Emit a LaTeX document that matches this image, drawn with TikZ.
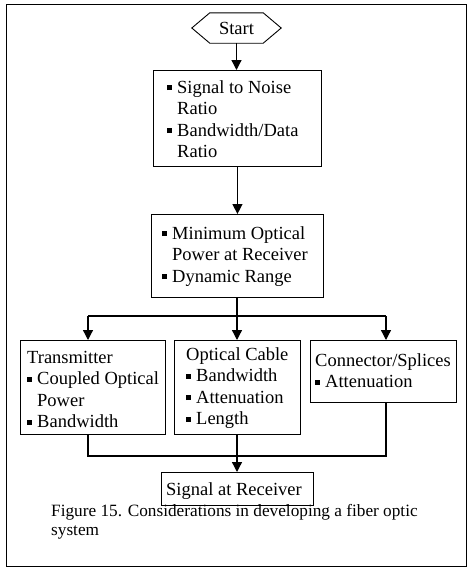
\documentclass[tikz,border=0pt]{standalone}
\usepackage{fontspec}
\setmainfont{Liberation Serif}
\usetikzlibrary{arrows.meta}
\newcommand{\bul}{\makebox[10pt][l]{\rule[3pt]{5pt}{5pt}}}
\newcommand{\ind}{\hspace*{10pt}}
\begin{document}
\begin{tikzpicture}[x=1pt,y=-1pt,
  box/.style={draw, line width=0.9pt, anchor=north west, inner sep=0pt},
  txt/.style={anchor=north west, inner sep=0pt, align=left, font=\fontsize{18.5}{21.5}\selectfont},
  arr/.style={line width=1.3pt, -{Triangle[length=10pt,width=10pt]}},
  ln/.style={line width=1.3pt}]
\useasboundingbox (0,0) rectangle (467,568);
\draw[line width=0.9pt] (6,4) rectangle (466,566);
% start
\node[minimum width=89pt, minimum height=30pt, inner sep=0pt, font=\fontsize{18.5}{21.5}\selectfont] (start) at (236.5,28) {Start};
\draw[line width=0.9pt] (start.west) -- ([xshift=18pt]start.north west) -- ([xshift=-18pt]start.north east) -- (start.east) -- ([xshift=-18pt]start.south east) -- ([xshift=18pt]start.south west) -- cycle;
% boxes
\node[box, minimum width=168pt, minimum height=96pt] (b1) at (153,70) {};
\node[txt] (t1) at (167,93-15.05) {\strut\bul Signal to Noise\\\ind Ratio\\\bul Bandwidth/Data\\\ind Ratio};
\node[box, minimum width=172pt, minimum height=83pt] (b2) at (151,214) {};
\node[txt] (t2) at (162,239-15.05) {\strut\bul Minimum Optical\\\ind Power at Receiver\\\bul Dynamic Range};
\node[box, minimum width=145pt, minimum height=94pt] (tx) at (20,340) {};
\node[txt] (t3) at (27,363-15.05) {\strut Transmitter\\\bul Coupled Optical\\\ind Power\\\bul Bandwidth};
\node[box, minimum width=126pt, minimum height=94pt] (cable) at (174,340) {};
\node[txt] (t4) at (186,360-15.05) {\strut Optical Cable\\\bul Bandwidth\\\bul Attenuation\\\bul Length};
\node[box, minimum width=146pt, minimum height=62pt] (conn) at (310,340) {};
\node[txt] (t5) at (315,366-15.05) {\strut Connector/Splices\\\bul Attenuation};
\node[box, minimum width=152pt, minimum height=33pt] (rx) at (161,472) {};
\node[anchor=base west, inner sep=0pt, font=\fontsize{18.5}{21.5}\selectfont] (t6) at (166,495) {Signal at Receiver};
% caption
\node[anchor=north west, inner sep=0pt, align=left, font=\fontsize{17.25}{19}\selectfont] (cap) at (51,516-13.3) {\strut Figure 15. Considerations in developing a fiber optic\\system};
% connectors
\draw[arr] (start.south) -- (b1.north -| start.south);
\draw[arr] (b1.south) -- (b2.north -| b1.south);
\coordinate (jm) at (237,316);
\coordinate (jl) at (88,316);
\coordinate (jr) at (386,316);
\draw[ln] (b2.south -| jm) -- (jm);
\draw[ln] (jl) -- (jr);
\draw[arr] (jl) -- (jl |- tx.north);
\draw[arr] (jm) -- (jm |- cable.north);
\draw[arr] (jr) -- (jr |- conn.north);
\coordinate (kl) at (88,456);
\coordinate (kr) at (386,456);
\draw[ln] (kl |- tx.south) -- (kl) -- (kr) -- (kr |- conn.south);
\draw[arr] (cable.south -| jm) -- (jm |- rx.north);
\end{tikzpicture}
\end{document}
